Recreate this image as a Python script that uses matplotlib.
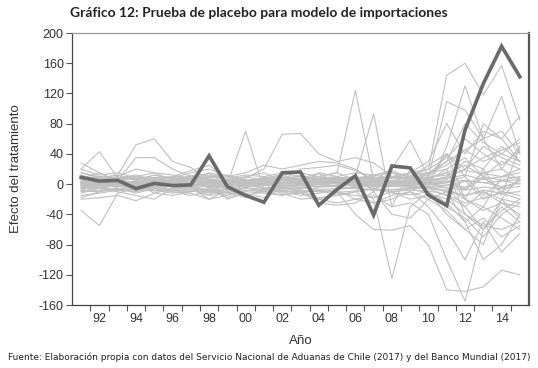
import matplotlib
matplotlib.use("Agg")
import matplotlib.pyplot as plt
from matplotlib.ticker import FixedLocator, FixedFormatter

years = list(range(1991, 2016))

treated = [9, 4, 5, -6, 1, -2, -1, 37.5, -3.5, -15, -24, 15, 16, -28, -7, 11,
           -41, 24, 21.5, -14.5, -28.5, 71.5, 133, 182.5, 142]

u01 = [6, 4, 5, 2, 3, 4, 2, 6, 3, 1, 2, 4, 3, 2, 5, 3, 2, 4, 3, 5, 8, 20, 35, 45, 55]
u02 = [-4, -2, -3, -5, -2, -1, -3, -2, -4, -3, -2, -1, -2, -3, -1, -2, -4, -3, -2, 0, -5, -20, -35, -25, -40]
u03 = [2, 0, 1, -1, 0, 2, 1, 3, 0, -1, 0, 1, 2, 0, 1, 0, -1, 1, 0, 2, 4, -8, 10, 5, 0]
u04 = [10, 8, 12, 6, 9, 7, 10, 14, 6, 4, 6, 8, 10, 7, 9, 8, 6, 10, 12, 15, 25, 45, 30, 40, 30]
u05 = [-10, -8, -6, -4, -8, -6, -5, -12, -7, -5, -9, -6, -8, -10, -7, -5, -8, -10, -6, -12, -20, -40, -55, -60, -50]
u06 = [0, 2, -2, 1, 3, -1, 0, -3, 2, 1, -1, 0, 1, -1, 2, 1, 0, -2, 1, 0, 2, 10, -15, 5, 10]
u07 = [15, 10, 8, 12, 5, 8, 15, 20, 10, 5, 8, 12, 15, 10, 5, 8, 12, 15, 10, 20, 35, 60, 40, 25, 45]
u08 = [-15, -12, -8, -10, -5, -10, -12, -20, -15, -8, -10, -14, -12, -8, -15, -10, -6, -12, -14, -10, -25, -50, -30, -45, -60]
u09 = [4, -2, 6, 0, 8, 2, -2, 1, 5, 3, 0, 2, -1, 4, 0, 3, 5, 1, -3, 4, 6, -5, 15, 20, 5]
u10 = [-6, 5, 0, -8, -4, 3, 6, -2, -6, 0, 4, -3, 0, 3, -4, -6, 2, -1, 5, -3, -10, 5, -20, -10, -15]
u11 = [20, 12, 15, 8, 2, 10, 18, 25, 5, 2, 8, 12, 5, 10, 15, 5, 12, 18, 8, 12, 30, 45, 60, 70, 40]
u12 = [-20, -18, -15, -22, -12, -15, -10, -8, -18, -10, -12, -15, -8, -20, -12, -15, -18, -10, -20, -15, -30, -45, -70, -40, -25]
u13 = [8, 15, 2, 4, 12, 6, -5, 10, 12, -4, 6, 0, 8, 14, 2, -4, 8, 4, 10, 8, 15, 25, 10, 30, 20]
u14 = [-2, -6, 4, -4, 0, -8, -4, -10, 0, 6, -6, -4, -6, 0, -3, 2, -6, -8, -4, -6, -15, -30, -10, -25, -30]
u15 = [12, 5, 10, 20, 15, 12, 8, 2, -5, 10, 15, 5, 20, 22, 25, 18, 5, 10, 8, 25, 40, 20, 50, 35, 25]
u16 = [-12, -5, -10, -15, -20, -5, -8, -15, -10, -18, -5, -10, -15, -12, -8, -20, -25, -15, -10, -20, -35, -60, -45, -70, -55]
u17 = [-35, -55, -12, -5, -3, -8, -10, -6, -4, -2, -5, -3, -2, -4, -3, -1, -2, -3, -2, -5, -8, -15, -10, -20, -25]
u18 = [15, 8, 12, 52, 60, 30, 22, 5, 0, 2, 4, 6, 3, 5, 2, 4, 3, 5, 2, 4, 10, 30, 20, 50, 30]
u19 = [28, 15, 5, 35, 35, 20, 10, 8, 12, 5, 3, 8, 5, 4, 8, 6, 5, 2, 4, 8, 15, -20, -30, 10, 20]
u20 = [20, 43, 8, 10, 15, 5, 2, 10, 6, 4, 8, 5, 12, 6, 4, 8, 6, 4, 10, 15, 20, 35, 10, -10, 5]
u21 = [5, 0, 3, 0, 5, 8, 5, -5, 0, 70, -8, 10, 5, 0, 8, 5, 3, 0, 5, 3, -5, -30, -60, -35, -20]
u22 = [-5, 0, 8, 10, 5, 0, -5, -15, 5, 8, 20, 66, 67, 40, 30, 35, 28, 10, 5, 15, 30, 80, 55, 40, 60]
u23 = [3, 5, 0, 2, 6, 4, 0, 5, 2, -2, 0, 5, 8, 10, 15, 124, 5, 8, 10, 5, 20, -40, -60, -20, 10]
u24 = [-2, 5, 4, 8, 2, 5, 10, 0, -2, 5, 2, 8, 6, 5, 5, 10, 93, -30, 20, 5, 40, 10, 80, 60, 30]
u25 = [0, -5, -2, 0, 5, -3, -8, -10, -15, -5, 10, 5, 0, 15, 10, -5, -20, -125, -30, -10, -40, -60, -80, -20, -45]
u26 = [-8, 0, 6, 10, 8, 10, 5, 15, 10, 15, 25, 20, 25, 30, 28, 20, 5, 20, 58, 10, 40, -20, 20, -15, 50]
u27 = [2, -4, 0, -3, 2, 0, -5, -20, -8, -5, -10, -5, -8, -10, -10, -40, -60, -61, -55, -81, -140, -142, -136, -114, -120]
u28 = [-8, -10, -5, -12, -6, -10, -15, -10, -12, -15, -10, -8, -12, -20, -25, -20, -15, -30, -25, -40, -100, -155, -60, -30, -50]
u29 = [10, 5, 8, 6, 12, 8, 5, 10, 8, 12, 10, 15, 10, 5, 8, 10, 5, 10, 15, 20, 144, 160, 118, 157, 85]
u30 = [-3, 2, 5, 8, 4, 10, 8, 12, 5, 6, 2, 8, 10, 5, 6, 8, 10, 2, 5, 10, 109, 98, 60, 116, 40]
u31 = [6, 10, 5, 2, 0, 5, 8, 3, 6, 10, 5, 2, 0, 8, 10, 15, 12, 8, 15, 30, 80, 40, 70, 60, 90]
u32 = [-10, -4, -8, 0, -12, -6, -2, -8, -12, 0, -6, -12, -20, -18, -15, -10, -25, -20, -10, -30, -60, -100, -50, -90, -65]
u33 = [0, 8, -6, -10, -4, 2, 12, 5, -8, -6, 10, -8, -12, -4, 5, 10, -10, 15, 5, -5, 50, 130, 60, 20, 50]
u34 = [-18, -10, 4, 2, -8, -12, -6, 6, -20, -12, -18, -5, -10, -25, -28, -25, -10, -40, -45, -20, -10, -50, -100, -80, -40]
u35 = [1, 2, 0, 3, 1, 0, 2, 1, 3, 0, 1, 2, 0, 1, 3, 2, 0, 1, 2, 1, 3, 5, 2, 4, 6]
u36 = [-3, -1, -2, -4, -2, -3, -1, -4, -2, -3, -1, -2, -4, -3, -2, -1, -3, -2, -4, -3, -5, -8, -4, -6, -3]
u37 = [5, 6, 4, 3, 5, 4, 6, 7, 4, 3, 5, 6, 4, 5, 3, 4, 6, 5, 4, 6, 8, 12, 6, 10, 8]
u38 = [-6, -5, -7, -8, -5, -6, -4, -9, -6, -5, -7, -6, -5, -7, -6, -4, -8, -7, -6, -5, -10, -15, -8, -12, -10]
u39 = [0, -1, 1, -2, 0, 1, -1, 0, 1, -2, 0, 1, -1, 0, 1, -1, 0, 1, -1, 0, -2, 4, 2, -3, 1]
u40 = [8, 7, 9, 5, 6, 8, 7, 10, 6, 5, 7, 9, 6, 8, 7, 6, 9, 8, 7, 9, 12, 18, 14, 10, 15]
u41 = [-9, -10, -7, -6, -9, -8, -10, -6, -11, -9, -7, -10, -9, -8, -11, -9, -7, -10, -8, -9, -14, -25, -18, -12, -20]
u42 = [2, 4, 3, 1, -1, 3, 4, 2, -2, 2, 3, 1, 2, 4, 1, 0, 3, 2, 1, 3, 0, -6, 8, -5, 4]

placebos = [u01, u02, u03, u04, u05, u06, u07, u08, u09, u10, u11, u12, u13, u14,
            u15, u16, u17, u18, u19, u20, u21, u22, u23, u24, u25, u26, u27, u28,
            u29, u30, u31, u32, u33, u34, u35, u36, u37, u38, u39, u40, u41, u42]

y_ticks = [200, 160, 120, 80, 40, 0, -40, -80, -120, -160]
x_label_years = list(range(1992, 2015, 2))
x_labels = ["%02d" % (y % 100) for y in x_label_years]

title = "Gráfico 12: Prueba de placebo para modelo de importaciones"
source = ("Fuente: Elaboración propia con datos del Servicio Nacional de Aduanas "
          "de Chile (2017) y del Banco Mundial (2017)")

plt.rcParams["font.family"] = ["Liberation Sans", "DejaVu Sans"]

fig = plt.figure(figsize=(5.38, 3.68), dpi=100)
ax = fig.add_axes([72 / 538, 1 - 305 / 368, (529 - 72) / 538, (305 - 33) / 368])

for s in placebos:
    ax.plot(years, s, color="#C0C0C0", lw=0.8, zorder=2)
ax.plot(years, treated, color="#6A6A6A", lw=2.6, zorder=3, solid_joinstyle="miter")

ax.set_xlim(1990.5, 2015.5)
ax.set_ylim(-160, 200)

ax.xaxis.set_major_locator(FixedLocator([1990.5 + k for k in range(1, 25)]))
ax.xaxis.set_major_formatter(FixedFormatter([""] * 24))
ax.xaxis.set_minor_locator(FixedLocator(x_label_years))
ax.xaxis.set_minor_formatter(FixedFormatter(x_labels))
ax.tick_params(axis="x", which="major", direction="out", length=4, width=0.8, color="#555555")
ax.tick_params(axis="x", which="minor", length=0, labelsize=9, labelcolor="#333333", pad=6)

ax.set_yticks(y_ticks)
ax.set_yticklabels([str(v) for v in y_ticks])
ax.tick_params(axis="y", direction="out", length=4, width=0.8, color="#555555",
               labelsize=9, labelcolor="#333333", pad=2)

ax.spines["left"].set_color("#444444")
ax.spines["bottom"].set_color("#444444")
ax.spines["top"].set_color("#999999")
ax.spines["right"].set_color("#555555")
ax.spines["right"].set_linewidth(1.6)
for sp in ["left", "bottom", "top"]:
    ax.spines[sp].set_linewidth(0.9)

ax.set_xlabel("Año", fontsize=9.5, color="#333333", labelpad=7)
ax.set_ylabel("Efecto del tratamiento", fontsize=9.5, color="#333333", labelpad=12)

fig.text(259 / 538, 1 - 13 / 368, title, ha="center", va="center",
         fontsize=10, fontweight="bold", color="#222222", family=["Lato", "DejaVu Sans"])
fig.text(8 / 538, 1 - 357 / 368, source, ha="left", va="center",
         fontsize=6.5, color="#222222", family=["DejaVu Sans"])

fig.savefig("out.png", dpi=100)
